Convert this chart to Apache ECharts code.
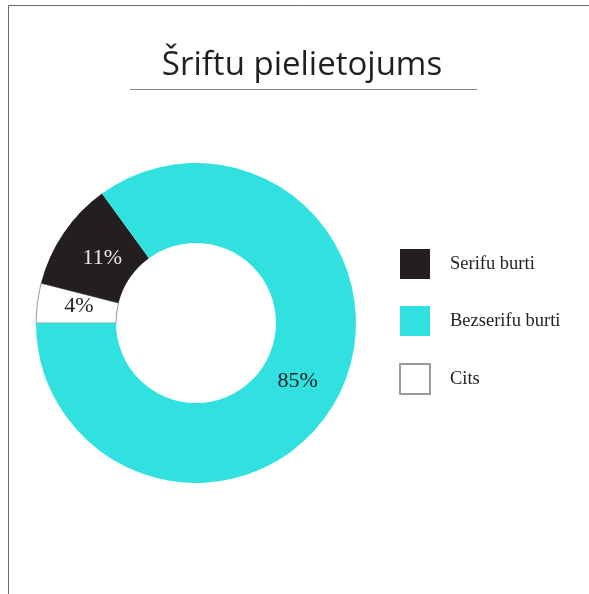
<!DOCTYPE html>
<html>
<head>
<meta charset="utf-8">
<script src="https://cdn.jsdelivr.net/npm/echarts@6/dist/echarts.min.js"></script>
<style>
html,body{margin:0;padding:0;background:#fff;}
#c{width:589px;height:594px;}
</style>
</head>
<body>
<div id="c"></div>
<script>
const titleText = "Šriftu pielietojums";
const categories = ["Cits", "Serifu burti", "Bezserifu burti"];
const values = [4, 11, 85];
const legendOrder = ["Serifu burti", "Bezserifu burti", "Cits"];
const colors = ["#ffffff", "#231f20", "#31e1e0"];
const labelColors = ["#231f20", "#e8e8e8", "#231f20"];
const labelNudge = [[5, -1], [8, 4], [-8, 2]];

const chart = echarts.init(document.getElementById('c'));
const data = categories.map((n, i) => ({
  name: n,
  value: values[i],
  itemStyle: i === 0 ? {color: colors[i], borderColor: '#9a9a9a', borderWidth: 1} : {color: colors[i], borderWidth: 0},
  label: {color: labelColors[i]}
}));
chart.setOption({
  backgroundColor: '#ffffff',
  animation: false,
  title: {
    text: titleText,
    left: 302, textAlign: 'center', top: 49, padding: 0,
    textStyle: {fontFamily: 'Open Sans', fontWeight: 'normal', fontSize: 33, color: '#231f20'}
  },
  legend: {
    data: legendOrder,
    orient: 'vertical',
    left: 399, top: 249, padding: 0,
    itemWidth: 30, itemHeight: 30, itemGap: 27,
    icon: 'rect',
    textStyle: {fontFamily: 'Liberation Serif', fontSize: 18.5, color: '#231f20', padding: [0,0,0,15]}
  },
  graphic: [
    {type: 'line', shape: {x1: 8.5, y1: 5.5, x2: 589, y2: 5.5}, style: {stroke: '#666', lineWidth: 1}},
    {type: 'line', shape: {x1: 8.5, y1: 5.5, x2: 8.5, y2: 594}, style: {stroke: '#666', lineWidth: 1}},
    {type: 'line', shape: {x1: 130, y1: 89.5, x2: 477, y2: 89.5}, style: {stroke: '#888', lineWidth: 1}}
  ],
  series: [{
    type: 'pie',
    center: [196, 323],
    radius: [80, 160],
    startAngle: 180,
    clockwise: true,
    avoidLabelOverlap: false,
    label: {show: true, position: 'inside', formatter: '{c}%', fontFamily: 'Liberation Serif', fontSize: 22},
    labelLine: {show: false},
    labelLayout: function (p) { const d = labelNudge[p.dataIndex]; return {dx: d[0], dy: d[1]}; },
    emphasis: {disabled: true},
    data: data
  }]
});
</script>
</body>
</html>
